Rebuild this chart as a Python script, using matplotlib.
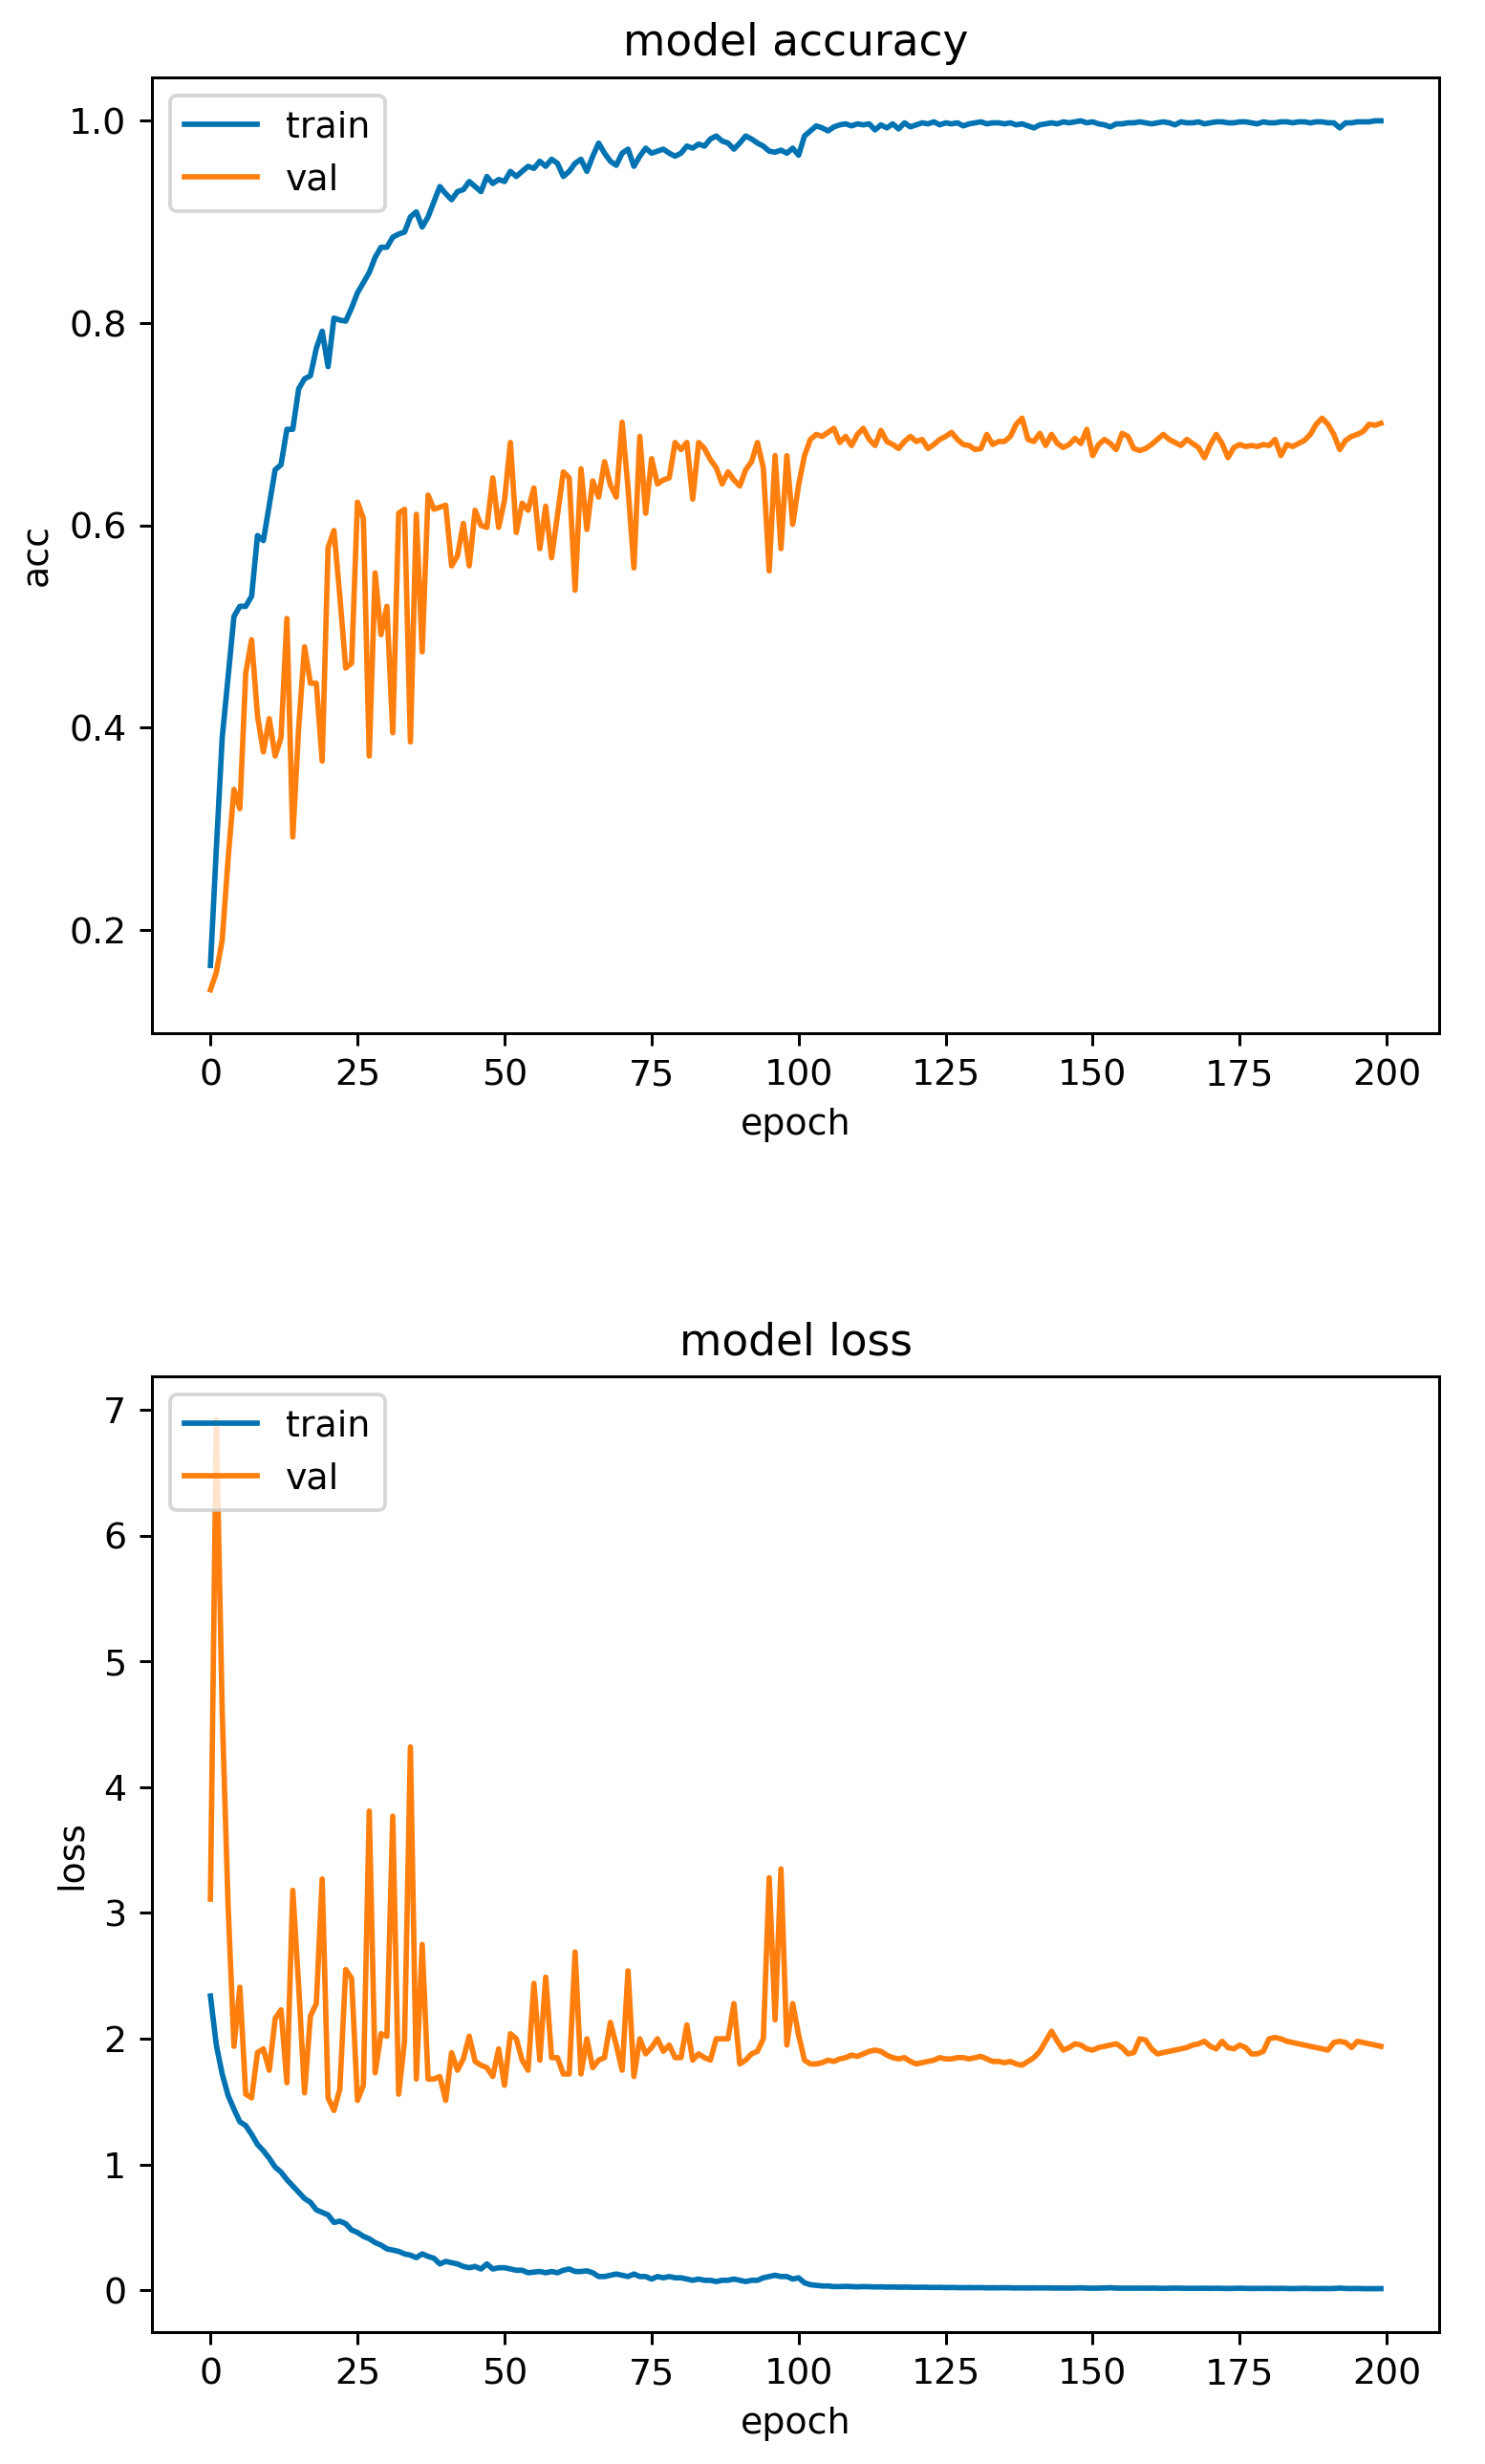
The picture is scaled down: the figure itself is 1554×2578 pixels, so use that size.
import numpy as np
import matplotlib
matplotlib.use("Agg")
import matplotlib.pyplot as plt

epochs = list(range(200))

train_acc = [
    0.165, 0.28, 0.39, 0.45, 0.51, 0.52, 0.52, 0.53, 0.59, 0.585,
    0.62, 0.655, 0.66, 0.695, 0.695, 0.735, 0.745, 0.748, 0.775, 0.792,
    0.757, 0.805, 0.803, 0.802, 0.815, 0.83, 0.84, 0.85, 0.865, 0.875,
    0.875, 0.885, 0.888, 0.89, 0.905, 0.91, 0.895, 0.905, 0.92, 0.935,
    0.928, 0.922, 0.93, 0.932, 0.94, 0.935, 0.93, 0.945, 0.938, 0.942,
    0.94, 0.95, 0.945, 0.95, 0.955, 0.953, 0.96, 0.955, 0.962, 0.958,
    0.945, 0.95, 0.958, 0.962, 0.95, 0.965, 0.978, 0.968, 0.96, 0.956,
    0.968, 0.972, 0.955, 0.965, 0.973, 0.968, 0.97, 0.972, 0.968, 0.965,
    0.968, 0.975, 0.973, 0.977, 0.975, 0.982, 0.985, 0.98, 0.978, 0.972,
    0.978, 0.985, 0.982, 0.978, 0.975, 0.97, 0.969, 0.971, 0.968, 0.973,
    0.966, 0.985, 0.99, 0.995, 0.993, 0.99, 0.994, 0.996, 0.997, 0.995,
    0.997, 0.996, 0.997, 0.991, 0.996, 0.993, 0.997, 0.992, 0.998, 0.994,
    0.996, 0.998, 0.997, 0.999, 0.996, 0.998, 0.997, 0.998, 0.995, 0.997,
    0.998, 0.999, 0.997, 0.998, 0.998, 0.997, 0.998, 0.996, 0.997, 0.995,
    0.993, 0.996, 0.997, 0.998, 0.997, 0.999, 0.998, 0.999, 1.0, 0.998,
    0.999, 0.997, 0.996, 0.994, 0.997, 0.997, 0.998, 0.998, 0.999, 0.998,
    0.997, 0.998, 0.999, 0.998, 0.996, 0.999, 0.998, 0.998, 0.999, 0.997,
    0.998, 0.999, 0.999, 0.998, 0.998, 0.999, 0.999, 0.998, 0.997, 0.999,
    0.998, 0.998, 0.999, 0.999, 0.998, 0.999, 0.999, 0.998, 0.999, 0.999,
    0.998, 0.998, 0.993, 0.998, 0.998, 0.999, 0.999, 0.999, 1.0, 1.0,
]

val_acc = [
    0.141, 0.158, 0.19, 0.27, 0.339, 0.32, 0.454, 0.487, 0.412, 0.376,
    0.409, 0.372, 0.39, 0.508, 0.292, 0.40, 0.48, 0.444, 0.444, 0.367,
    0.578, 0.595, 0.53, 0.459, 0.464, 0.623, 0.607, 0.372, 0.553, 0.492,
    0.52, 0.395, 0.612, 0.616, 0.386, 0.611, 0.475, 0.63, 0.616, 0.618,
    0.62, 0.56, 0.57, 0.602, 0.56, 0.615, 0.60, 0.598, 0.647, 0.598,
    0.625, 0.682, 0.593, 0.622, 0.615, 0.637, 0.577, 0.619, 0.568, 0.61,
    0.653, 0.647, 0.536, 0.656, 0.596, 0.644, 0.628, 0.663, 0.64, 0.628,
    0.702, 0.637, 0.558, 0.688, 0.612, 0.666, 0.641, 0.645, 0.647, 0.682,
    0.675, 0.682, 0.626, 0.682, 0.676, 0.665, 0.657, 0.641, 0.653, 0.645,
    0.639, 0.655, 0.663, 0.682, 0.657, 0.555, 0.669, 0.577, 0.669, 0.601,
    0.640, 0.669, 0.685, 0.690, 0.688, 0.692, 0.696, 0.682, 0.688, 0.679,
    0.690, 0.696, 0.685, 0.679, 0.694, 0.683, 0.680, 0.676, 0.683, 0.688,
    0.683, 0.685, 0.676, 0.680, 0.685, 0.688, 0.692, 0.685, 0.680, 0.679,
    0.675, 0.676, 0.690, 0.680, 0.683, 0.683, 0.688, 0.700, 0.706, 0.685,
    0.683, 0.691, 0.679, 0.690, 0.681, 0.677, 0.680, 0.686, 0.681, 0.695,
    0.669, 0.680, 0.685, 0.681, 0.675, 0.691, 0.688, 0.676, 0.674, 0.676,
    0.680, 0.685, 0.690, 0.685, 0.682, 0.679, 0.685, 0.681, 0.677, 0.667,
    0.680, 0.690, 0.681, 0.667, 0.677, 0.680, 0.678, 0.679, 0.678, 0.680,
    0.679, 0.685, 0.669, 0.680, 0.678, 0.681, 0.684, 0.690, 0.700, 0.706,
    0.700, 0.690, 0.675, 0.684, 0.688, 0.690, 0.693, 0.700, 0.699, 0.701,
]

train_loss = [
    2.34, 1.95, 1.72, 1.55, 1.44, 1.34, 1.31, 1.24, 1.16, 1.11,
    1.05, 0.98, 0.94, 0.88, 0.83, 0.78, 0.73, 0.70, 0.64, 0.62,
    0.60, 0.54, 0.55, 0.53, 0.48, 0.46, 0.43, 0.41, 0.38, 0.36,
    0.33, 0.32, 0.31, 0.29, 0.28, 0.26, 0.29, 0.27, 0.255, 0.21,
    0.23, 0.22, 0.21, 0.19, 0.18, 0.19, 0.17, 0.21, 0.17, 0.18,
    0.18, 0.17, 0.16, 0.16, 0.14, 0.145, 0.15, 0.14, 0.15, 0.14,
    0.16, 0.17, 0.15, 0.15, 0.155, 0.14, 0.11, 0.11, 0.12, 0.13,
    0.12, 0.11, 0.13, 0.11, 0.11, 0.09, 0.11, 0.10, 0.11, 0.10,
    0.10, 0.09, 0.08, 0.09, 0.08, 0.08, 0.07, 0.08, 0.08, 0.09,
    0.08, 0.07, 0.08, 0.08, 0.10, 0.11, 0.12, 0.11, 0.11, 0.09,
    0.10, 0.06, 0.045, 0.04, 0.035, 0.035, 0.03, 0.03, 0.032, 0.03,
    0.028, 0.03, 0.029, 0.027, 0.028, 0.026, 0.027, 0.025, 0.026, 0.025,
    0.024, 0.025, 0.024, 0.023, 0.024, 0.022, 0.023, 0.022, 0.021, 0.022,
    0.021, 0.022, 0.020, 0.021, 0.020, 0.021, 0.020, 0.019, 0.020, 0.019,
    0.020, 0.019, 0.020, 0.019, 0.018, 0.019, 0.018, 0.019, 0.020, 0.018,
    0.017, 0.018, 0.019, 0.021, 0.018, 0.017, 0.018, 0.017, 0.018, 0.017,
    0.018, 0.017, 0.016, 0.017, 0.018, 0.017, 0.016, 0.017, 0.016, 0.017,
    0.016, 0.017, 0.016, 0.015, 0.016, 0.017, 0.016, 0.015, 0.016, 0.015,
    0.016, 0.015, 0.016, 0.015, 0.014, 0.015, 0.016, 0.015, 0.014, 0.015,
    0.014, 0.015, 0.018, 0.015, 0.014, 0.015, 0.014, 0.013, 0.014, 0.014,
]

val_loss = [
    3.11, 6.92, 4.6, 3.06, 1.94, 2.41, 1.56, 1.53, 1.89, 1.92,
    1.75, 2.16, 2.23, 1.65, 3.18, 2.42, 1.57, 2.18, 2.28, 3.27,
    1.53, 1.43, 1.60, 2.55, 2.48, 1.51, 1.63, 3.81, 1.73, 2.04,
    2.02, 3.77, 1.56, 1.98, 4.32, 1.68, 2.75, 1.68, 1.68, 1.70,
    1.51, 1.89, 1.75, 1.84, 2.02, 1.82, 1.79, 1.77, 1.70, 1.92,
    1.63, 2.04, 2.0, 1.83, 1.75, 2.44, 1.83, 2.49, 1.85, 1.85,
    1.72, 1.72, 2.69, 1.72, 2.0, 1.77, 1.83, 1.85, 2.13, 1.95,
    1.75, 2.54, 1.70, 2.0, 1.88, 1.93, 2.0, 1.90, 1.95, 1.85,
    1.85, 2.11, 1.83, 1.88, 1.85, 1.83, 2.0, 2.0, 2.0, 2.28,
    1.80, 1.83, 1.88, 1.90, 2.0, 3.28, 2.15, 3.35, 1.95, 2.28,
    2.03, 1.83, 1.80, 1.80, 1.81, 1.83, 1.82, 1.84, 1.85, 1.87,
    1.86, 1.88, 1.90, 1.91, 1.90, 1.87, 1.85, 1.84, 1.85, 1.82,
    1.80, 1.81, 1.82, 1.83, 1.85, 1.84, 1.84, 1.85, 1.85, 1.84,
    1.85, 1.86, 1.84, 1.82, 1.82, 1.81, 1.82, 1.80, 1.79, 1.82,
    1.85, 1.90, 1.98, 2.06, 1.98, 1.91, 1.93, 1.96, 1.95, 1.92,
    1.91, 1.93, 1.94, 1.95, 1.96, 1.93, 1.88, 1.89, 2.0, 1.99,
    1.92, 1.88, 1.89, 1.90, 1.91, 1.92, 1.93, 1.95, 1.96, 1.98,
    1.94, 1.92, 1.98, 1.93, 1.92, 1.95, 1.93, 1.88, 1.88, 1.90,
    2.0, 2.01, 2.0, 1.98, 1.97, 1.96, 1.95, 1.94, 1.93, 1.92,
    1.91, 1.97, 1.98, 1.97, 1.93, 1.98, 1.97, 1.96, 1.95, 1.94,
]

legend_labels = ["train", "val"]
train_color = "#0173b2"
val_color = "#ff7f0e"

DPI = 273


def main():
    # dpi picked so the default text/line sizes match the reference scale
    fig = plt.figure(figsize=(1554 / DPI, 2578 / DPI), dpi=DPI)

    ax1 = fig.add_axes([0.1023, 0.5807, 0.867, 0.3879])
    ax1.plot(epochs, train_acc, color=train_color)
    ax1.plot(epochs, val_acc, color=val_color)
    ax1.set_title("model accuracy")
    ax1.set_ylabel("acc")
    ax1.set_xlabel("epoch")
    ax1.set_xticks([0, 25, 50, 75, 100, 125, 150, 175, 200])
    ax1.legend(legend_labels, loc="upper left")

    ax2 = fig.add_axes([0.1023, 0.0535, 0.867, 0.3879])
    ax2.plot(epochs, train_loss, color=train_color)
    ax2.plot(epochs, val_loss, color=val_color)
    ax2.set_title("model loss")
    ax2.set_ylabel("loss")
    ax2.set_xlabel("epoch")
    ax2.set_xticks([0, 25, 50, 75, 100, 125, 150, 175, 200])
    ax2.legend(legend_labels, loc="upper left")

    fig.savefig("out.png", dpi=DPI)


if __name__ == "__main__":
    main()
